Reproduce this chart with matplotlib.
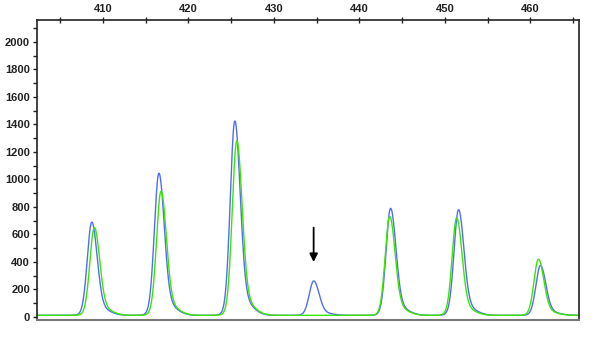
import numpy as np
import matplotlib
matplotlib.use("Agg")
import matplotlib.pyplot as plt
from matplotlib.ticker import MultipleLocator

# Peak data (size in bp, height in RFU)
blue_pos = [408.70, 416.55, 425.43, 434.66, 443.65, 451.60, 461.18]
blue_hgt = [690, 1045, 1425, 262, 790, 780, 375]
green_pos = [409.00, 416.80, 425.66, 443.55, 451.38, 460.95]
green_hgt = [650, 915, 1280, 730, 720, 420]
baseline = 12
arrow_x = 434.66
arrow_from = 650
arrow_to = 400

xticks = [410, 420, 430, 440, 450, 460]
yticks = list(range(0, 2001, 200))

sig_l, sig_r = 0.52, 0.62
tail_frac, tail_shift, tail_sig = 0.07, 1.0, 1.1
norm = (1 - tail_frac) + tail_frac * np.exp(-0.5 * (tail_shift / tail_sig) ** 2)

def trace(x, pos, hgt):
    y = np.full_like(x, float(baseline))
    for p, h in zip(pos, hgt):
        s = np.where(x < p, sig_l, sig_r)
        a = (h - baseline) / norm
        y += a * (1 - tail_frac) * np.exp(-0.5 * ((x - p) / s) ** 2)
        y += a * tail_frac * np.exp(-0.5 * ((x - p - tail_shift) / tail_sig) ** 2)
    return y

fig = plt.figure(figsize=(6, 3.37), dpi=100)
ax = fig.add_axes([37 / 600, 1 - 320 / 337, (579 - 37) / 600, (320 - 20) / 337])
x = np.linspace(402.3, 465.7, 1200)
ax.plot(x, trace(x, blue_pos, blue_hgt), color="#4f6ef7", lw=1.0)
ax.plot(x, trace(x, green_pos, green_hgt), color="#3ae600", lw=1.0)
ax.annotate("", xy=(arrow_x, arrow_to), xytext=(arrow_x, arrow_from),
            arrowprops=dict(arrowstyle="-|>", color="black", lw=1.3,
                            mutation_scale=12, shrinkA=0, shrinkB=0))

ax.set_xlim(402.3, 465.7)
ax.set_ylim(-22, 2160)
ax.xaxis.set_ticks_position("top")
ax.xaxis.set_label_position("top")
ax.set_xticks(xticks)
ax.xaxis.set_minor_locator(MultipleLocator(5))
ax.set_yticks(yticks)
ax.yaxis.set_minor_locator(MultipleLocator(100))
ax.tick_params(which="both", direction="inout", length=5, width=1, color="#222222")
ax.tick_params(which="minor", length=4)
ax.tick_params(axis="y", which="both", direction="out", length=3)
ax.tick_params(labelsize=8, pad=2, labelcolor="#222222")
for lab in ax.get_xticklabels() + ax.get_yticklabels():
    lab.set_fontfamily("Liberation Sans")
    lab.set_fontweight("bold")
for s in ["left", "top", "right"]:
    ax.spines[s].set_color("#222222")
    ax.spines[s].set_linewidth(1.2)
ax.spines["bottom"].set_color("#777777")
ax.spines["bottom"].set_linewidth(1.5)
fig.savefig("out.png", dpi=100)
